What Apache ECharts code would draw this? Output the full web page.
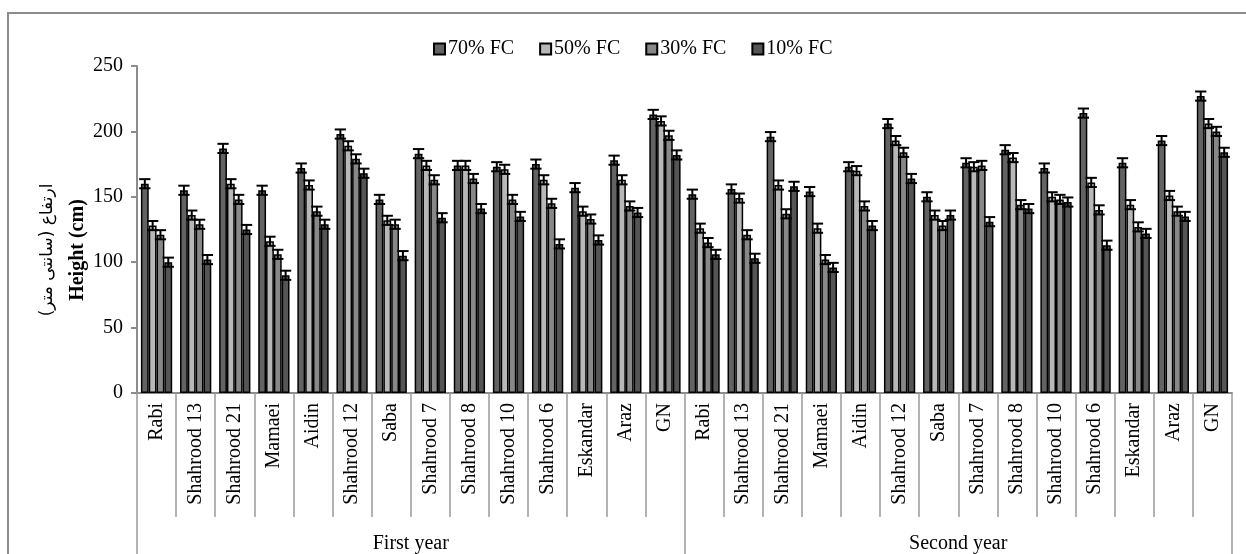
<!DOCTYPE html>
<html>
<head>
<meta charset="utf-8">
<title>Height (cm)</title>
<script src="https://cdn.jsdelivr.net/npm/echarts@6/dist/echarts.min.js"></script>
<style>
  html, body { margin: 0; padding: 0; background: #fff; }
  #chart { width: 1246px; height: 554px; }
</style>
</head>
<body>
<div id="chart"></div>
<script>
// Cultivars, repeated for each growing season
const cultivars = ['Rabi', 'Shahrood 13', 'Shahrood 21', 'Mamaei', 'Aidin', 'Shahrood 12', 'Saba',
  'Shahrood 7', 'Shahrood 8', 'Shahrood 10', 'Shahrood 6', 'Eskandar', 'Araz', 'GN'];
const years = ['First year', 'Second year'];
const seriesNames = ['70% FC', '50% FC', '30% FC', '10% FC'];

// Plant height (cm), first year then second year
const fc70 = [160, 155, 187, 155, 172, 198, 148, 183, 174, 173, 175, 157, 178, 213,
              152, 156, 196, 154, 173, 206, 150, 176, 186, 172, 214, 176, 193, 227];
const fc50 = [128, 136, 160, 116, 159, 189, 132, 174, 174, 171, 163, 139, 163, 208,
              126, 149, 159, 126, 170, 193, 136, 173, 180, 150, 161, 144, 151, 206];
const fc30 = [121, 129, 148, 106, 139, 179, 129, 163, 164, 148, 145, 133, 143, 197,
              115, 121, 137, 102, 143, 184, 128, 174, 144, 148, 140, 127, 139, 200];
const fc10 = [100, 102, 125, 90, 129, 168, 105, 134, 141, 135, 114, 117, 138, 182,
              106, 103, 158, 96, 128, 164, 136, 131, 141, 146, 113, 122, 135, 184];
// Standard error half-width (cm)
const errHalf = 3.5;

const colors = ['#636363', '#b8b8b8', '#888888', '#555555'];
const seriesValues = [fc70, fc50, fc30, fc10];

const categories = years.flatMap(() => cultivars);
const FONT = 'Liberation Serif';
const BAND_FILL = 0.8; // share of each category occupied by the bar group

const chart = echarts.init(document.getElementById('chart'));

const series = [];
seriesValues.forEach((vals, i) => {
  series.push({
    name: seriesNames[i],
    type: 'bar',
    data: vals,
    barGap: '0%',
    barCategoryGap: '20%',
    itemStyle: { color: colors[i], borderColor: '#000', borderWidth: 1.5 },
    z: 2
  });
  series.push({
    type: 'custom',
    name: seriesNames[i] + ' err',
    data: vals.map((v, k) => [k, v, errHalf]),
    encode: { x: 0, y: 1 },
    z: 3,
    silent: true,
    renderItem: (params, api) => {
      const idx = api.value(0);
      const v = api.value(1);
      const e = api.value(2);
      const band = api.size([1, 0])[0];
      const barW = band * BAND_FILL / 4;
      const off = -band * BAND_FILL / 2 + barW * (i + 0.5);
      const top = api.coord([idx, v + e]);
      const bot = api.coord([idx, v - e]);
      const x = top[0] + off;
      const half = barW * 0.72;
      const st = { stroke: '#000', lineWidth: 2 };
      return {
        type: 'group',
        children: [
          { type: 'line', shape: { x1: x, y1: top[1], x2: x, y2: bot[1] }, style: st },
          { type: 'line', shape: { x1: x - half, y1: top[1], x2: x + half, y2: top[1] }, style: st },
          { type: 'line', shape: { x1: x - half, y1: bot[1], x2: x + half, y2: bot[1] }, style: st }
        ]
      };
    }
  });
});

chart.setOption({
  animation: false,
  textStyle: { fontFamily: FONT, color: '#000' },
  legend: {
    data: seriesNames,
    top: 34,
    left: 428,
    itemWidth: 11,
    itemHeight: 11,
    itemGap: 25,
    icon: 'rect',
    textStyle: { fontFamily: FONT, fontSize: 20, color: '#000', padding: [0, 0, 0, -2] }
  },
  grid: { left: 137, right: 14, top: 66, bottom: 161, containLabel: false },
  xAxis: [
    {
      type: 'category',
      data: categories,
      boundaryGap: true,
      axisLine: { lineStyle: { color: '#8c8c8c', width: 2 } },
      axisTick: { show: true, interval: 0, length: 124, lineStyle: { color: '#9a9a9a', width: 1.5 } },
      axisLabel: {
        interval: 0, rotate: 90, margin: 10, hideOverlap: false,
        fontFamily: FONT, fontSize: 20, color: '#000'
      },
      splitLine: { show: false }
    },
    {
      type: 'category',
      data: years,
      position: 'bottom',
      boundaryGap: true,
      axisLine: { show: false },
      axisTick: { show: true, interval: 0, length: 175, lineStyle: { color: '#9a9a9a', width: 1.5 } },
      axisLabel: { interval: 0, margin: 141, fontFamily: FONT, fontSize: 20, color: '#000' },
      splitLine: { show: false }
    }
  ],
  yAxis: {
    type: 'value',
    min: 0,
    max: 250,
    interval: 50,
    axisLine: { show: true, lineStyle: { color: '#8c8c8c', width: 2 } },
    axisTick: { show: true, length: 6, lineStyle: { color: '#8c8c8c', width: 2 } },
    axisLabel: { margin: 14, fontFamily: FONT, fontSize: 20, color: '#000' },
    splitLine: { show: false }
  },
  graphic: [
    {
      type: 'rect',
      shape: { x: 8, y: 13, width: 1300, height: 640 },
      style: { fill: 'none', stroke: '#8c8c8c', lineWidth: 2 },
      silent: true,
      z: -1
    },
    {
      type: 'text',
      x: 78, y: 250,
      rotation: Math.PI / 2,
      style: {
        text: 'Height (cm)', fontFamily: FONT, fontSize: 20, fontWeight: 'bold',
        fill: '#000', textAlign: 'center', textVerticalAlign: 'middle'
      }
    },
    {
      type: 'text',
      x: 48, y: 250,
      rotation: Math.PI / 2,
      style: {
        text: 'ارتفاع (سانتی متر)', fontFamily: 'DejaVu Sans', fontSize: 17,
        fill: '#000', textAlign: 'center', textVerticalAlign: 'middle'
      }
    }
  ],
  series: series
});
</script>
</body>
</html>
